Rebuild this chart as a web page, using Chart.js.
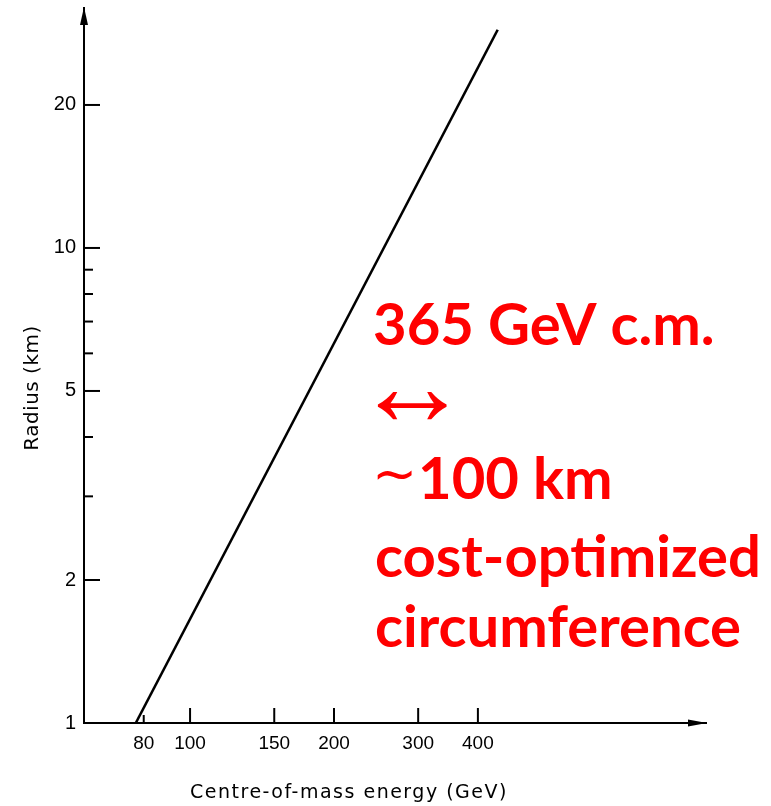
<!DOCTYPE html>
<html>
<head>
<meta charset="utf-8">
<script src="https://cdn.jsdelivr.net/npm/chart.js@4/dist/chart.umd.min.js"></script>
<style>
html,body{margin:0;padding:0;background:#fff;}
#wrap{width:771px;height:806px;position:relative;}
</style>
</head>
<body>
<div id="wrap"><canvas id="c" width="771" height="806"></canvas></div>
<script>
// ---- data ----
const energyGeV = [77, 440];          // centre-of-mass energy (GeV)
const radiusKm  = [1, 28.8];          // radius (km)
const xTickValues = [80, 100, 150, 200, 300, 400];
const yTickValues = [1, 2, 5, 10, 20];
const yMinorTickValues = [3, 4, 6, 7, 8, 9];
const xTitle = 'Centre-of-mass energy (GeV)';
const yTitle = 'Radius (km)';
const noteLines = ['365 GeV c.m.', '\u2194', '\u223C', '100 km', 'cost-optimized', 'circumference'];

const points = energyGeV.map((e, i) => ({x: e, y: radiusKm[i]}));

const decor = {
  id: 'decor',
  afterDraw(chart) {
    const ctx = chart.ctx;
    const xs = chart.scales.x, ys = chart.scales.y;
    const a = chart.chartArea;
    ctx.save();
    ctx.strokeStyle = '#000';
    ctx.fillStyle = '#000';
    ctx.lineWidth = 2;
    yTickValues.forEach(v => {
      if (v === 1) return;
      const y = ys.getPixelForValue(v);
      ctx.beginPath(); ctx.moveTo(a.left, y); ctx.lineTo(a.left + 16, y); ctx.stroke();
    });
    yMinorTickValues.forEach(v => {
      const y = ys.getPixelForValue(v);
      ctx.beginPath(); ctx.moveTo(a.left, y); ctx.lineTo(a.left + 9, y); ctx.stroke();
    });
    xTickValues.forEach(v => {
      const x = xs.getPixelForValue(v);
      const len = v === 80 ? 8 : 15;
      ctx.beginPath(); ctx.moveTo(x, a.bottom); ctx.lineTo(x, a.bottom - len); ctx.stroke();
    });
    ctx.beginPath();
    ctx.moveTo(a.left, a.top - 1);
    ctx.lineTo(a.left - 4, a.top + 17);
    ctx.lineTo(a.left + 4, a.top + 17);
    ctx.closePath(); ctx.fill();
    ctx.beginPath();
    ctx.moveTo(a.right + 1, a.bottom);
    ctx.lineTo(a.right - 18, a.bottom - 3.5);
    ctx.lineTo(a.right - 18, a.bottom + 3.5);
    ctx.closePath(); ctx.fill();
    // axis titles
    ctx.textAlign = 'center';
    ctx.textBaseline = 'middle';
    if ('letterSpacing' in ctx) ctx.letterSpacing = '1.5px';
    ctx.font = '19px "DejaVu Sans"';
    ctx.fillText(xTitle, 349, 793);
    if ('letterSpacing' in ctx) ctx.letterSpacing = '0.5px';
    ctx.save();
    ctx.translate(33, 388);
    ctx.rotate(-Math.PI / 2);
    ctx.font = '20px "DejaVu Sans"';
    ctx.fillText(yTitle, 0, 0);
    ctx.restore();
    if ('letterSpacing' in ctx) ctx.letterSpacing = '0px';
    // red annotation
    ctx.fillStyle = '#FF0000';
    ctx.textAlign = 'left';
    ctx.textBaseline = 'alphabetic';
    const big = 'bold 58px Lato, "DejaVu Sans"';
    ctx.font = big;
    ctx.fillText(noteLines[0], 373, 345);
    ctx.font = 'bold 116px "Liberation Sans"';
    ctx.textBaseline = 'middle';
    ctx.fillText(noteLines[1], 354, 393);
    ctx.font = '54px "DejaVu Sans"';
    ctx.fillText(noteLines[2], 372, 478);
    ctx.textBaseline = 'alphabetic';
    ctx.font = big;
    ctx.fillText(noteLines[3], 418, 499);
    ctx.fillText(noteLines[4], 375, 577);
    ctx.fillText(noteLines[5], 375, 647);
    ctx.restore();
  }
};

new Chart(document.getElementById('c'), {
  type: 'scatter',
  data: {
    datasets: [{
      data: points,
      showLine: true,
      borderColor: '#000',
      borderWidth: 2.6,
      pointRadius: 0,
      fill: false,
      clip: false
    }]
  },
  options: {
    responsive: false,
    animation: false,
    devicePixelRatio: 1,
    layout: {padding: {left: 0, right: 65, top: 8, bottom: 0}},
    plugins: {legend: {display: false}, tooltip: {enabled: false}},
    scales: {
      x: {
        type: 'logarithmic',
        min: 60, max: 1200,
        grid: {display: false, drawTicks: false},
        border: {display: true, color: '#000', width: 2},
        afterBuildTicks: s => { s.ticks = xTickValues.map(v => ({value: v})); },
        afterFit: s => { s.height = 83; s.paddingLeft = 0; s.paddingRight = 0; },
        ticks: {
          autoSkip: false, maxRotation: 0, padding: 9, color: '#000',
          font: {family: '"Liberation Sans"', size: 19},
          callback: v => String(v)
        },
        title: {display: false}
      },
      y: {
        type: 'logarithmic',
        min: 1, max: 32,
        grid: {display: false, drawTicks: false},
        border: {display: true, color: '#000', width: 2},
        afterBuildTicks: s => { s.ticks = yTickValues.map(v => ({value: v})); },
        afterFit: s => { s.width = 84; s.paddingTop = 0; s.paddingBottom = 0; },
        ticks: {
          autoSkip: false, padding: 8, color: '#000',
          font: {family: '"Liberation Sans"', size: 20},
          callback: v => String(v)
        },
        title: {display: false}
      }
    }
  },
  plugins: [decor]
});
</script>
</body>
</html>
